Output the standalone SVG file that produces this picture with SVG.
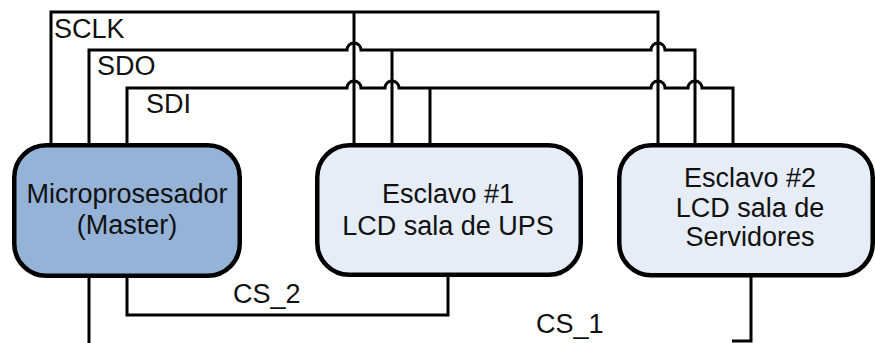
<svg xmlns="http://www.w3.org/2000/svg" width="875" height="343" viewBox="0 0 875 343">
<style>
.w{fill:none;stroke:#000;stroke-width:3;stroke-linejoin:miter}
.box{stroke:#000;stroke-width:4.5}
.m{fill:#95B3D7}
.s{fill:#E6EDF7}
text{font-family:"Liberation Sans",Arial,sans-serif;font-size:27px;fill:#111}
.c{text-anchor:middle}
</style>
<rect width="875" height="343" fill="#fff"/>
<g id="connectors">
<path class="w" d="M51 145 V12 H658 V145"/>
<path class="w" d="M354 12 V145"/>
<path class="w" d="M89 145 V50 H347 A7 7 0 0 1 361 50 H651 A7 7 0 0 1 665 50 H695 V145"/>
<path class="w" d="M392 50 V145"/>
<path class="w" d="M127 145 V88 H347 A7 7 0 0 1 361 88 H385 A7 7 0 0 1 399 88 H651 A7 7 0 0 1 665 88 H688 A7 7 0 0 1 702 88 H733 V145"/>
<path class="w" d="M430 88 V145"/>
<path class="w" d="M89 275 V343"/>
<path class="w" d="M127 275 V315 H448 V275"/>
<path class="w" d="M751 275 V341 H732"/>
<text x="54" y="38">SCLK</text>
<text x="97" y="75">SDO</text>
<text x="146" y="113">SDI</text>
<text x="233" y="303">CS_2</text>
<text x="536" y="333">CS_1</text>
</g>
<g id="master">
<rect class="box m" x="14.25" y="145.25" width="225.5" height="130.5" rx="32"/>
<text class="c" x="127" y="203">Microprosesador</text>
<text class="c" x="127" y="234">(Master)</text>
</g>
<g id="esclavo1">
<rect class="box s" x="317.25" y="145.25" width="263.5" height="129.5" rx="32"/>
<text class="c" x="448" y="203">Esclavo #1</text>
<text class="c" x="448" y="235">LCD sala de UPS</text>
</g>
<g id="esclavo2">
<rect class="box s" x="619.25" y="145.25" width="253.5" height="130" rx="32"/>
<text class="c" x="750" y="187">Esclavo #2</text>
<text class="c" x="750" y="217">LCD sala de</text>
<text class="c" x="750" y="246">Servidores</text>
</g>
</svg>
